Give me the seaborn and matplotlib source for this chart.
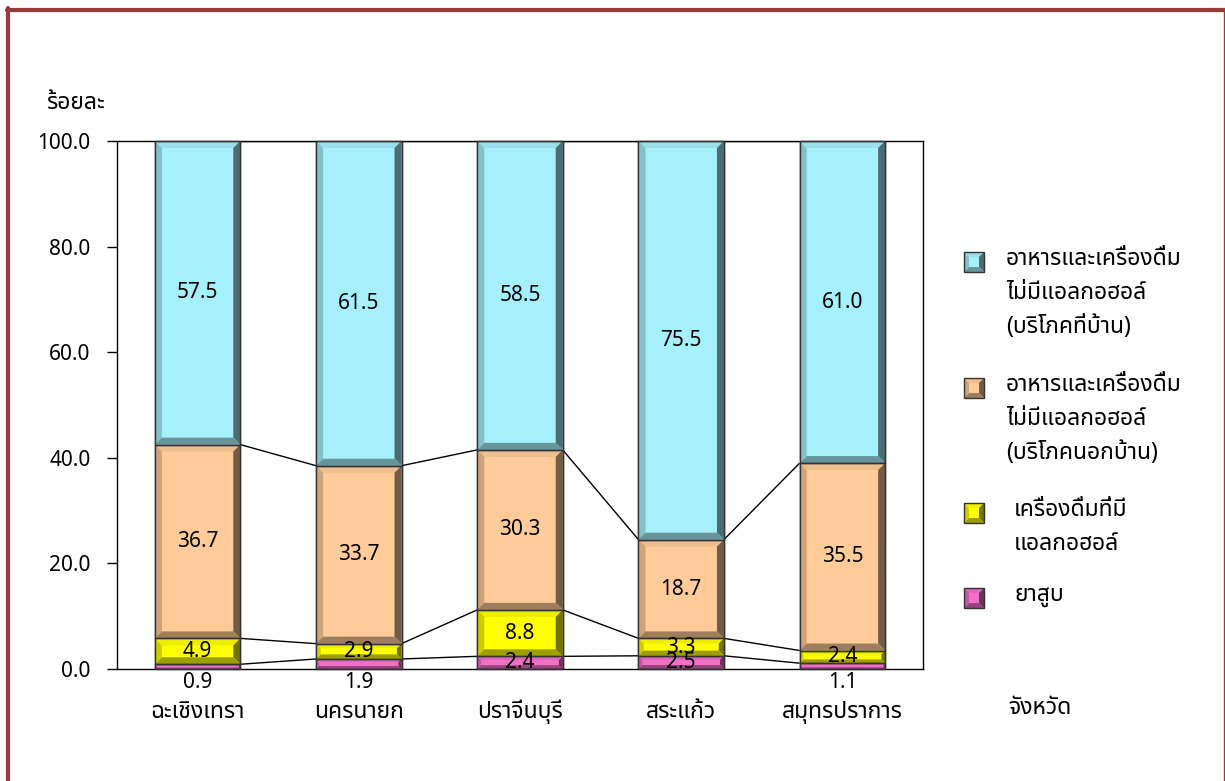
import numpy as np
import pandas as pd
import seaborn as sns
import matplotlib
matplotlib.use("Agg")
import matplotlib.pyplot as plt
from matplotlib import font_manager, ft2font
from matplotlib.patches import Polygon, Rectangle
from matplotlib.transforms import IdentityTransform

# ---- data ----
provinces = ["ฉะเชิงเทรา", "นครนายก", "ปราจีนบุรี", "สระแก้ว", "สมุทรปราการ"]
tobacco = [0.9, 1.9, 2.4, 2.5, 1.1]
alcohol = [4.9, 2.9, 8.8, 3.3, 2.4]
food_out = [36.7, 33.7, 30.3, 18.7, 35.5]
food_home = [57.5, 61.5, 58.5, 75.5, 61.0]

series_names = [
    "ยาสูบ",
    "เครื่องดื่มที่มี\nแอลกอฮอล์",
    "อาหารและเครื่องดื่ม\nไม่มีแอลกอฮอล์\n(บริโภคนอกบ้าน)",
    "อาหารและเครื่องดื่ม\nไม่มีแอลกอฮอล์\n(บริโภคที่บ้าน)",
]
series_vals = [tobacco, alcohol, food_out, food_home]
colors = ["#F070C8", "#FFFF00", "#FFCC99", "#A6F0FB"]
y_ticks = [0, 20, 40, 60, 80, 100]


# ---- font with Thai glyphs ----
def find_thai_font():
    pref = ["Tahoma", "Noto Sans Thai", "Noto Sans Thai UI", "Loma", "Garuda",
            "Sarabun", "Kinnari", "Norasi", "Waree", "Umpush", "Laksaman"]
    found = []
    for f in font_manager.fontManager.ttflist:
        try:
            cm = ft2font.FT2Font(f.fname).get_charmap()
        except Exception:
            continue
        if 0x0E2D in cm and 0x0E48 in cm:
            found.append(f.name)
    for p in pref:
        if p in found:
            return p
    return found[0] if found else None


sns.set_theme(style="white")
thai = find_thai_font()
print("thai font:", thai)
fams = ([thai] if thai else []) + ["DejaVu Sans"]
plt.rcParams["font.family"] = fams
plt.rcParams["axes.unicode_minus"] = False
plt.rcParams["text.color"] = "black"
plt.rcParams["xtick.color"] = "black"
plt.rcParams["ytick.color"] = "black"

TH_FS = 16.5
NUM_FS = 15
NUM_FAM = ["Noto Sans", "DejaVu Sans"]

W, H = 1225, 781
fig = plt.figure(figsize=(W / 100, H / 100), dpi=100)
ax = fig.add_axes([117 / W, 1 - 669 / H, (923 - 117) / W, (669 - 141) / H])

df = pd.DataFrame({"province": provinces})
bottom = np.zeros(len(provinces))
patch_groups = []
for name, vals, col in zip(series_names, series_vals, colors):
    n_before = len(ax.patches)
    sns.barplot(x=df["province"], y=np.array(vals), bottom=bottom, color=col,
                width=0.53, edgecolor="#333333", linewidth=1.0, saturation=1,
                errorbar=None, ax=ax, zorder=2)
    patch_groups.append(list(ax.patches[n_before:]))
    bottom = bottom + np.array(vals)

ax.set_xlim(-0.5, 4.5)
ax.set_ylim(0, 100)
ax.set_yticks(y_ticks)
ax.set_yticklabels([f"{t:.1f}" for t in y_ticks], fontsize=NUM_FS, family=NUM_FAM)
ax.tick_params(axis="y", left=True, direction="out", length=7, width=1,
               color="black", pad=12)
ax.tick_params(axis="x", bottom=False, length=0, pad=22)
for lab in ax.get_xticklabels():
    lab.set_fontsize(TH_FS)
ax.set_xlabel("")
ax.set_ylabel("")
for s in ax.spines.values():
    s.set_color("black")
    s.set_linewidth(1.0)
ax.grid(False)

# series lines between bars
for grp in patch_groups:
    for a, b in zip(grp[:-1], grp[1:]):
        ya = a.get_y() + a.get_height()
        yb = b.get_y() + b.get_height()
        ax.plot([a.get_x() + a.get_width(), b.get_x()], [ya, yb],
                color="black", lw=1.0, zorder=1.5, solid_capstyle="butt")


# bevel effect
def shade(c, f):
    r = np.array(matplotlib.colors.to_rgb(c))
    return tuple(np.clip(r * f, 0, 1))


def bevel(target, x0, y0, x1, y1, col, bmax=7, z=2.5, base=False):
    b = min(bmax, (y1 - y0) * 0.3, (x1 - x0) * 0.3)
    if base:
        target.add_artist(Rectangle((x0, y0), x1 - x0, y1 - y0, facecolor=col,
                                    edgecolor="none", transform=IdentityTransform(),
                                    zorder=z - 0.1, clip_on=False))
    faces = [
        ([(x0, y1), (x1, y1), (x1 - b, y1 - b), (x0 + b, y1 - b)], 0.93),
        ([(x0, y0), (x0, y1), (x0 + b, y1 - b), (x0 + b, y0 + b)], 0.80),
        ([(x1, y0), (x1, y1), (x1 - b, y1 - b), (x1 - b, y0 + b)], 0.45),
        ([(x0, y0), (x1, y0), (x1 - b, y0 + b), (x0 + b, y0 + b)], 0.62),
    ]
    for pts, f in faces:
        target.add_artist(Polygon(pts, closed=True, facecolor=shade(col, f),
                                  edgecolor="none", transform=IdentityTransform(),
                                  zorder=z, clip_on=False))
    target.add_artist(Rectangle((x0, y0), x1 - x0, y1 - y0, fill=False,
                                edgecolor="#333333", lw=1.0,
                                transform=IdentityTransform(), zorder=z + 0.1,
                                clip_on=False))


for grp, col in zip(patch_groups, colors):
    for p in grp:
        (x0, y0), (x1, y1) = ax.transData.transform(
            [(p.get_x(), p.get_y()), (p.get_x() + p.get_width(), p.get_y() + p.get_height())])
        bevel(ax, x0, y0, x1, y1, col)

# value labels
for vals, grp in zip(series_vals, patch_groups):
    for v, p in zip(vals, grp):
        xc = p.get_x() + p.get_width() / 2
        yc = p.get_y() + p.get_height() / 2
        if v < 2:
            yc = -2.6
        ax.text(xc, yc, f"{v:.1f}", ha="center", va="center", fontsize=NUM_FS,
                family=NUM_FAM, zorder=6, clip_on=False)

# axis titles
fig.text(75 / W, 1 - 103 / H, "ร้อยละ", ha="center", va="center", fontsize=TH_FS)
fig.text(1040 / W, 1 - 708 / H, "จังหวัด", ha="center", va="center", fontsize=TH_FS)

# legend (drawn by hand so the key sits beside the first line)
leg_y = [262, 388, 513, 598]
leg_x = [1006, 1006, 1014, 1014]
order = [3, 2, 1, 0]
for yy, xx, i in zip(leg_y, leg_x, order):
    cx, cy = 974, H - yy
    bevel(fig, cx - 10, cy - 10, cx + 10, cy + 10, colors[i], bmax=5, z=3, base=True)
    for k, line in enumerate(series_names[i].split("\n")):
        fig.text(xx / W, 1 - (yy - 3 + k * 34) / H, line, ha="left",
                 va="center", fontsize=TH_FS)

# frame around the picture
red = "#9B3A3A"
fig.add_artist(plt.Line2D([8 / W, 8 / W], [0, 1 - 8 / H], color=red, lw=3,
                          transform=fig.transFigure))
fig.add_artist(plt.Line2D([6.5 / W, 1], [1 - 10 / H, 1 - 10 / H], color=red, lw=3,
                          transform=fig.transFigure))
fig.add_artist(plt.Line2D([1223.5 / W, 1223.5 / W], [0, 1 - 10 / H], color=red, lw=1,
                          transform=fig.transFigure))

fig.savefig("out.png", dpi=100)
